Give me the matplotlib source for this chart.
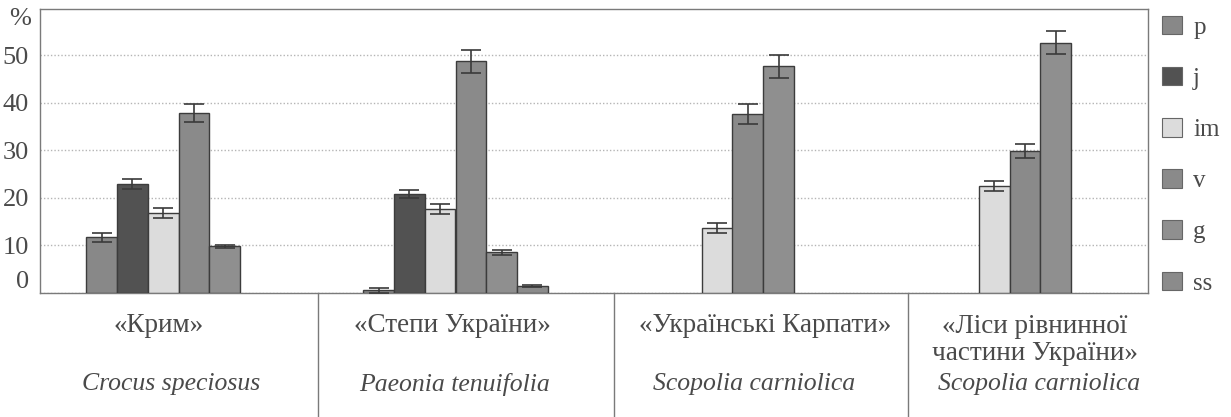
import numpy as np
import matplotlib
matplotlib.use("Agg")
import matplotlib.pyplot as plt
from matplotlib.patches import Patch
from matplotlib.lines import Line2D

plt.rcParams['font.family'] = ['Liberation Serif', 'DejaVu Serif']

# ---- data ----
categories = ['«Крим»', '«Степи України»', '«Українські Карпати»', '«Ліси рівнинної\nчастини України»']
species = ['Crocus speciosus', 'Paeonia tenuifolia', 'Scopolia carniolica', 'Scopolia carniolica']
series = ['p', 'j', 'im', 'v', 'g', 'ss']
nan = np.nan
p_vals = [11.6, 0.5, nan, nan]
j_vals = [22.9, 20.7, nan, nan]
im_vals = [16.7, 17.6, 13.6, 22.4]
v_vals = [37.7, 48.7, 37.6, 29.8]
g_vals = [9.7, 8.5, 47.6, 52.6]
ss_vals = [nan, 1.4, nan, nan]
p_err = [0.9, 0.55, nan, nan]
j_err = [1.0, 0.8, nan, nan]
im_err = [1.05, 1.05, 1.05, 1.0]
v_err = [1.9, 2.4, 2.1, 1.55]
g_err = [0.4, 0.55, 2.45, 2.45]
ss_err = [nan, 0.25, nan, nan]
yticks = [0, 10, 20, 30, 40, 50]

values = [p_vals, j_vals, im_vals, v_vals, g_vals, ss_vals]
errors = [p_err, j_err, im_err, v_err, g_err, ss_err]
colors = ['#888888', '#525252', '#dcdcdc', '#8a8a8a', '#8f8f8f', '#8b8b8b']

W, H = 1231, 417
fig = plt.figure(figsize=(W / 100, H / 100), dpi=100)
fig.patch.set_facecolor('white')

def fx(px):
    return px / W

def fy(py):
    return 1 - py / H

ax = fig.add_axes([fx(40), fy(292.5), fx(1148) - fx(40), fy(9) - fy(292.5)])

x = np.arange(len(categories))
width = (2 / 3) / len(series)
txt_col = '#4a4a4a'
for i, (name, vals, errs, c) in enumerate(zip(series, values, errors, colors)):
    pos = x + (i - (len(series) - 1) / 2) * width
    ax.bar(pos, vals, width, color=c, edgecolor='#3c3c3c', linewidth=1.0,
           label=name, zorder=3)
    ax.errorbar(pos, vals, yerr=errs, fmt='none', ecolor='#3a3a3a',
                elinewidth=1.2, capsize=7, capthick=1.2, zorder=4)

ax.set_xlim(-0.5, len(categories) - 0.5)
ax.set_ylim(0, 59.7)
ax.set_xticks([])
ax.set_yticks(yticks)
ax.set_yticklabels([str(t) for t in yticks])
ax.tick_params(axis='y', length=0, pad=8, labelsize=19, labelcolor=txt_col)
for lab in ax.get_yticklabels():
    if lab.get_text() == '0':
        lab.set_va('bottom')
ax.yaxis.grid(True, linestyle=(0, (1, 1.5)), color='#b5b5b5', linewidth=1.0, zorder=0)
ax.set_axisbelow(True)
for s in ax.spines.values():
    s.set_color('#7a7a7a')
    s.set_linewidth(1.0)

fig.text(fx(31), fy(19), '%', ha='right', va='center', fontsize=19, color=txt_col)

# legend
handles = [Patch(facecolor=c, edgecolor='#666666', linewidth=0.8) for c in colors]
fig.legend(handles, series, loc='upper left', bbox_to_anchor=(fx(1162), fy(16)),
           frameon=False, fontsize=18, handlelength=0.8, handleheight=0.75,
           handletextpad=0.45, labelspacing=1.13, labelcolor=txt_col,
           borderaxespad=0, borderpad=0)

# table below
for sx in [318, 614, 908]:
    fig.add_artist(Line2D([fx(sx), fx(sx)], [fy(293), fy(417)], color='#7a7a7a', linewidth=1.0))

col_centers = [159, 452, 765, 1035]
sp_centers = [171, 455, 754, 1039]
for k, (cat, sp) in enumerate(zip(categories, species)):
    cy = 325 if '\n' not in cat else 340
    fig.text(fx(col_centers[k]), fy(cy), cat, ha='center', va='center',
             fontsize=19.5, color=txt_col, linespacing=1.12, multialignment='center')
    fig.text(fx(sp_centers[k]), fy(384), sp, ha='center', va='center',
             fontsize=18.5, style='italic', color=txt_col)

fig.savefig('out.png', dpi=100, facecolor='white')
